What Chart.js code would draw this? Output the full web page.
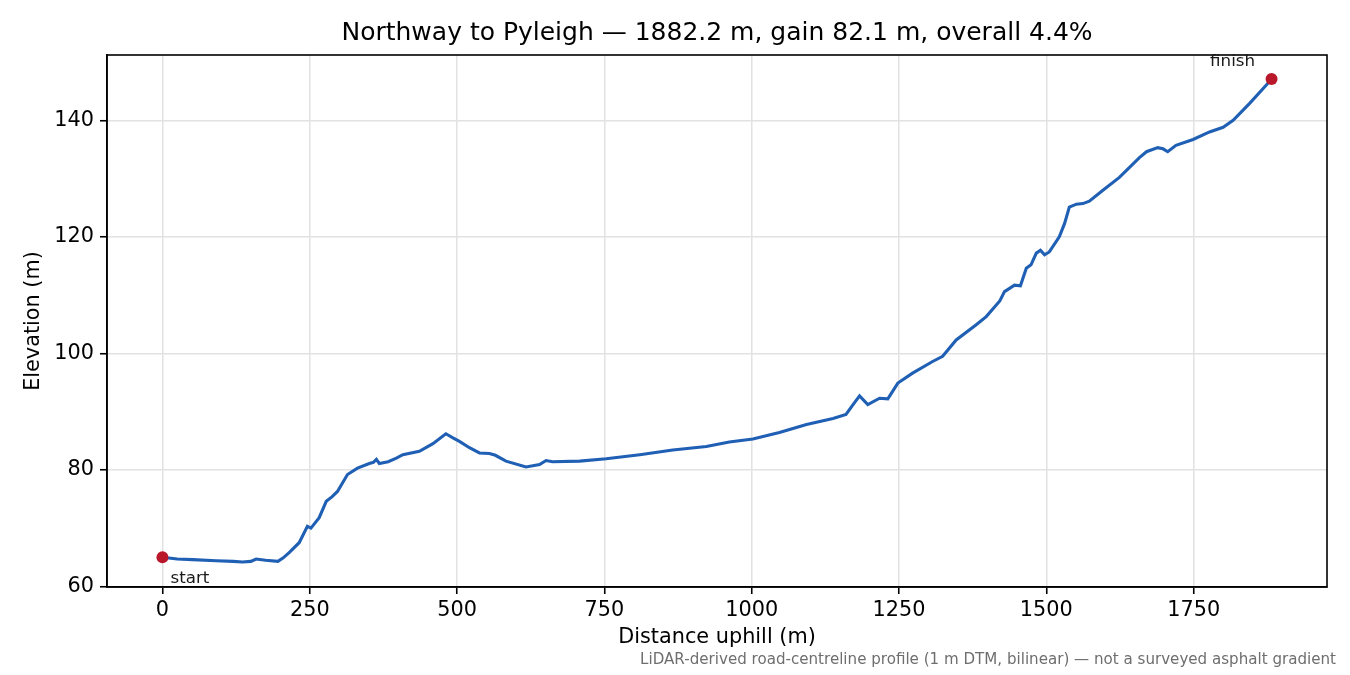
<!DOCTYPE html>
<html>
<head>
<meta charset="utf-8">
<script src="https://cdn.jsdelivr.net/npm/chart.js@4"></script>
<style>
  html, body { margin: 0; padding: 0; background: #fff; }
  #wrap { width: 1350px; height: 675px; }
  #fontprobe { font-family: "DejaVu Sans"; position: absolute; left: -9999px; top: 0; }
</style>
</head>
<body>
<span id="fontprobe">DejaVu 0123456789</span>
<div id="wrap"><canvas id="profileChart" width="1350" height="675"></canvas></div>
<script>
// distance along the road (m) and elevation (m)
const distances = [0, 25, 51, 91, 120, 136, 150, 159, 175, 196, 205, 215, 232, 246, 252, 266, 278, 288, 297, 314,
  331, 351, 358, 363, 368, 383, 397, 408, 436, 459, 481, 493, 504, 521, 538, 555, 565, 583, 617, 640,
  651, 662, 708, 753, 810, 866, 923, 962, 1002, 1047, 1093, 1138, 1160, 1172, 1183, 1197, 1217, 1231, 1248, 1273,
  1307, 1324, 1347, 1381, 1398, 1421, 1429, 1446, 1456, 1466, 1474, 1483, 1490, 1497, 1505, 1522, 1531, 1539, 1551, 1562,
  1573, 1596, 1624, 1658, 1670, 1689, 1698, 1706, 1720, 1749, 1777, 1800, 1817, 1845, 1873, 1882.2];
const elevations = [65.0, 64.7, 64.6, 64.4, 64.3, 64.2, 64.3, 64.7, 64.5, 64.3, 64.9, 65.8, 67.5, 70.3, 70.0, 71.8, 74.6, 75.4, 76.3, 79.2,
  80.3, 81.1, 81.3, 81.8, 81.1, 81.4, 82.0, 82.6, 83.2, 84.5, 86.2, 85.5, 84.9, 83.8, 82.9, 82.8, 82.5, 81.5, 80.5, 80.9,
  81.6, 81.4, 81.5, 81.9, 82.6, 83.4, 84.0, 84.8, 85.3, 86.4, 87.8, 88.8, 89.5, 91.2, 92.7, 91.2, 92.3, 92.2, 94.9, 96.6,
  98.6, 99.5, 102.3, 104.9, 106.3, 109.0, 110.6, 111.7, 111.6, 114.6, 115.2, 117.2, 117.7, 116.9, 117.4, 120.0, 122.3, 125.1, 125.6, 125.7,
  126.1, 128.0, 130.2, 133.6, 134.6, 135.3, 135.1, 134.6, 135.7, 136.7, 138.0, 138.8, 140.0, 142.9, 146.0, 147.1];

const endLabels = ['start', 'finish'];
const xTicks = [0, 250, 500, 750, 1000, 1250, 1500, 1750];
const yTicks = [60, 80, 100, 120, 140];

const titleText = 'Northway to Pyleigh \u2014 1882.2 m, gain 82.1 m, overall 4.4%';
const noteText = 'LiDAR-derived road-centreline profile (1 m DTM, bilinear) \u2014 not a surveyed asphalt gradient';

const FONT = '"DejaVu Sans", sans-serif';

const profilePoints = distances.map((d, i) => ({x: d, y: elevations[i]}));
const last = distances.length - 1;
const endPoints = [
  {x: distances[0], y: elevations[0]},
  {x: distances[last], y: elevations[last]}
];

// title, frame, start/finish labels and the footnote
const extras = {
  id: 'extras',
  afterDraw(chart) {
    const {ctx, chartArea: a, scales} = chart;
    ctx.save();
    ctx.strokeStyle = '#000';
    ctx.lineWidth = 1.6;
    ctx.strokeRect(a.left, a.top, a.right - a.left, a.bottom - a.top);

    ctx.fillStyle = '#000';
    ctx.font = '25px ' + FONT;
    ctx.textAlign = 'center';
    ctx.textBaseline = 'middle';
    ctx.fillText(titleText, (a.left + a.right) / 2, 33);

    ctx.font = '16.7px ' + FONT;
    ctx.fillStyle = '#1a1a1a';
    const sx = scales.x.getPixelForValue(endPoints[0].x);
    const sy = scales.y.getPixelForValue(endPoints[0].y);
    ctx.textAlign = 'left';
    ctx.fillText(endLabels[0], sx + 8, sy + 21);
    const fx = scales.x.getPixelForValue(endPoints[1].x);
    const fy = scales.y.getPixelForValue(endPoints[1].y);
    ctx.textAlign = 'center';
    ctx.fillText(endLabels[1], fx - 39, fy - 17);

    ctx.font = '15.1px ' + FONT;
    ctx.fillStyle = '#6e6e6e';
    ctx.textAlign = 'right';
    ctx.fillText(noteText, 1336, 660);
    ctx.restore();
  }
};

function drawChart() {
  new Chart(document.getElementById('profileChart').getContext('2d'), {
    type: 'line',
    data: {
      datasets: [
        {
          data: profilePoints,
          borderColor: '#1f5fb4',
          borderWidth: 3.1,
          pointRadius: 0,
          tension: 0,
          fill: false,
          order: 2
        },
        {
          data: endPoints,
          showLine: false,
          pointRadius: 6,
          pointBorderWidth: 0,
          pointBackgroundColor: '#b9182a',
          pointBorderColor: '#b9182a',
          order: 1
        }
      ]
    },
    options: {
      responsive: false,
      animation: false,
      layout: { padding: { top: 55, right: 23, bottom: 23, left: 0 } },
      plugins: {
        legend: { display: false },
        tooltip: { enabled: false },
        title: { display: false }
      },
      scales: {
        x: {
          type: 'linear',
          min: -94.1,
          max: 1976.3,
          afterBuildTicks(scale) { scale.ticks = xTicks.map(v => ({value: v})); },
          afterFit(scale) { scale.height = 65; },
          grid: { color: '#e2e2e2', tickColor: '#000', tickLength: 7, lineWidth: 1.5, tickWidth: 1.6 },
          border: { color: '#000', width: 1.6 },
          ticks: { color: '#000', font: { family: FONT, size: 20.8 }, padding: 4, maxRotation: 0,
                   callback: v => String(v) },
          title: { display: true, text: 'Distance uphill (m)', color: '#000', font: { family: FONT, size: 20.8 }, padding: { top: 0, bottom: 1.5 } }
        },
        y: {
          type: 'linear',
          min: 59.9,
          max: 151.2,
          afterBuildTicks(scale) { scale.ticks = yTicks.map(v => ({value: v})); },
          afterFit(scale) { scale.width = 107; },
          grid: { color: '#e2e2e2', tickColor: '#000', tickLength: 7, lineWidth: 1.5, tickWidth: 1.6 },
          border: { color: '#000', width: 1.6 },
          ticks: { color: '#000', font: { family: FONT, size: 20.8 }, padding: 6, callback: v => String(v) },
          title: { display: true, text: 'Elevation (m)', color: '#000', font: { family: FONT, size: 20.8 }, padding: { top: 21.5, bottom: 0 } }
        }
      }
    },
    plugins: [extras]
  });
}

if (document.fonts && document.fonts.load) {
  Promise.all([
    document.fonts.load('20px "DejaVu Sans"'),
    document.fonts.ready
  ]).then(drawChart, drawChart);
} else {
  drawChart();
}
</script>
</body>
</html>
